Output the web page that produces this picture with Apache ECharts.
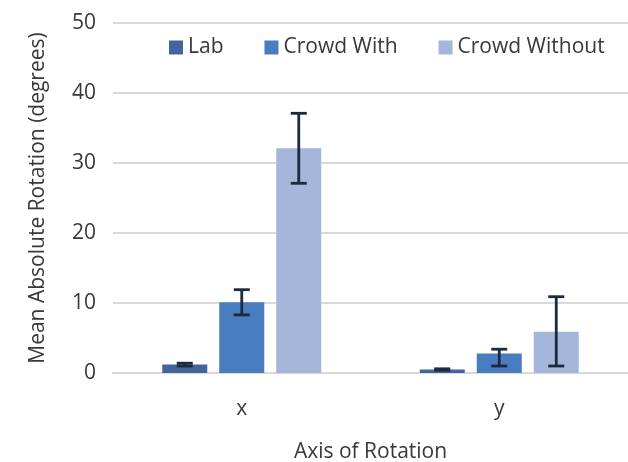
<!DOCTYPE html>
<html><head><meta charset="utf-8">
<script src="https://cdn.jsdelivr.net/npm/echarts@6/dist/echarts.min.js"></script>
<style>html,body{margin:0;padding:0;background:#fff}#c{width:628px;height:462px}</style>
</head><body><div id="c"></div>
<script>
const categories = ['x', 'y'];
const seriesNames = ['Lab', 'Crowd With', 'Crowd Without'];
const labMean = [1.2, 0.5];
const labLow = [1.0, 0.4];
const labHigh = [1.4, 0.6];
const withMean = [10.1, 2.8];
const withLow = [8.3, 1.0];
const withHigh = [11.9, 3.4];
const withoutMean = [32.1, 5.9];
const withoutLow = [27.1, 1.0];
const withoutHigh = [37.1, 10.9];
const yTicks = [0, 10, 20, 30, 40, 50];

const colors = ['#44649c', '#4a7dc0', '#a4b6d9'];
const means = [labMean, withMean, withoutMean];
const lows = [labLow, withLow, withoutLow];
const highs = [labHigh, withHigh, withoutHigh];
const BW = 45, GAP = 12;
const font = '"Open Sans", sans-serif';
const txt = '#383838';

const chart = echarts.init(document.getElementById('c'), null, {renderer: 'canvas'});
const series = [];
seriesNames.forEach((n, i) => {
  series.push({
    name: n, type: 'bar', data: means[i], barWidth: BW, barGap: (GAP / BW * 100) + '%',
    itemStyle: {color: colors[i]}, z: 2
  });
});
seriesNames.forEach((n, i) => {
  series.push({
    type: 'custom', name: n + ' err', z: 5,
    data: categories.map((c, j) => [j, lows[i][j], highs[i][j]]),
    renderItem: function (params, api) {
      const lo = api.coord([api.value(0), api.value(1)]);
      const hi = api.coord([api.value(0), api.value(2)]);
      const x = lo[0] + (i - 1) * (BW + GAP);
      const cw = 8;
      const st = {stroke: '#1c2a3f', lineWidth: 2.8};
      return {type: 'group', children: [
        {type: 'line', shape: {x1: x, y1: lo[1], x2: x, y2: hi[1]}, style: st},
        {type: 'line', shape: {x1: x - cw, y1: lo[1], x2: x + cw, y2: lo[1]}, style: st},
        {type: 'line', shape: {x1: x - cw, y1: hi[1], x2: x + cw, y2: hi[1]}, style: st}
      ]};
    }
  });
});

chart.setOption({
  animation: false,
  textStyle: {fontFamily: font},
  legend: {
    data: seriesNames, top: 32, left: 164, itemWidth: 14, itemHeight: 14, itemGap: 41,
    icon: 'rect',
    textStyle: {fontSize: 21, color: txt, fontFamily: font}
  },
  grid: {left: 113, right: 0, top: 23, bottom: 89, outerBoundsMode: 'none', containLabel: false},
  xAxis: {
    type: 'category', data: categories,
    name: 'Axis of Rotation', nameLocation: 'middle', nameGap: 69,
    nameTextStyle: {fontSize: 21, color: txt},
    axisTick: {show: false},
    axisLine: {lineStyle: {color: '#d9d9d9', width: 2}},
    axisLabel: {fontSize: 21, color: txt, margin: 26}
  },
  yAxis: {
    type: 'value', min: yTicks[0], max: yTicks[yTicks.length - 1], interval: 10,
    name: 'Mean Absolute Rotation (degrees)', nameLocation: 'middle', nameGap: 64,
    nameTextStyle: {fontSize: 21, color: txt},
    axisLine: {show: false}, axisTick: {show: false},
    axisLabel: {fontSize: 21, color: txt, margin: 17},
    splitLine: {lineStyle: {color: '#d9d9d9', width: 2}}
  },
  series: series
});
</script></body></html>
